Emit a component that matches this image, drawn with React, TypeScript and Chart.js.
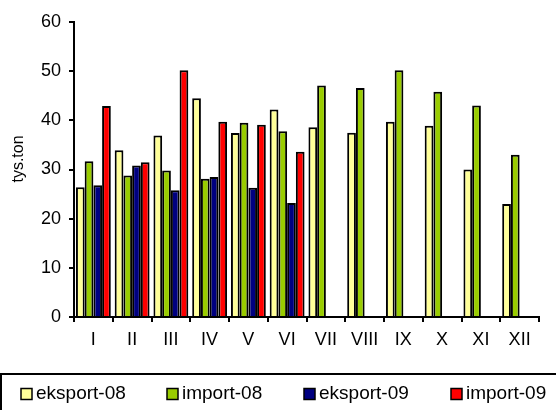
import React, { useEffect, useRef } from "react";
import { Chart, registerables } from "chart.js";

Chart.register(...registerables);

const months = ["I", "II", "III", "IV", "V", "VI", "VII", "VIII", "IX", "X", "XI", "XII"];
const eksport08 = [26.4, 33.9, 36.9, 44.5, 37.4, 42.2, 38.6, 37.5, 39.7, 38.9, 30.0, 23.0];
const import08 = [31.7, 28.8, 29.8, 28.1, 39.5, 37.8, 47.1, 46.6, 50.2, 45.8, 43.0, 33.0];
const eksport09 = [26.8, 30.8, 25.8, 28.5, 26.3, 23.2, null, null, null, null, null, null];
const import09 = [42.9, 31.5, 50.2, 39.7, 39.1, 33.6, null, null, null, null, null, null];
const seriesLabels = ["eksport-08", "import-08", "eksport-09", "import-09"];
const seriesColors = ["#FFFF99", "#99CC00", "#000080", "#FF0000"];
const yTicks = [0, 10, 20, 30, 40, 50, 60];
const yTitle = "tys.ton";

const FONT = "'Liberation Sans', Arial, sans-serif";

const extrasPlugin = {
  id: "extras",
  afterDraw(chart: any) {
    const ctx = chart.ctx;
    ctx.save();
    ctx.fillStyle = "#000";
    ctx.font = `16px ${FONT}`;
    ctx.textAlign = "center";
    ctx.textBaseline = "middle";
    ctx.translate(19, 159);
    ctx.rotate(-Math.PI / 2);
    ctx.fillText(yTitle, 0, 0);
    ctx.restore();

    ctx.save();
    ctx.strokeStyle = "#000";
    ctx.lineWidth = 2;
    ctx.strokeRect(1, 374, 620, 100);
    const xs = [21, 167, 304, 451];
    chart.data.datasets.forEach((ds: any, i: number) => {
      const x = xs[i];
      ctx.fillStyle = ds.backgroundColor;
      ctx.fillRect(x, 388.5, 11, 11);
      ctx.strokeStyle = "#000";
      ctx.lineWidth = 1.5;
      ctx.strokeRect(x, 388.5, 11, 11);
      ctx.fillStyle = "#000";
      ctx.font = `19px ${FONT}`;
      ctx.textAlign = "left";
      ctx.textBaseline = "middle";
      ctx.fillText(ds.label, x + 15, 394);
    });
    ctx.restore();
  },
};

export default function App() {
  const ref = useRef<HTMLCanvasElement | null>(null);
  useEffect(() => {
    document.body.style.margin = "0";
    const canvas = ref.current!;
    const data = [eksport08, import08, eksport09, import09];
    const chart = new Chart(canvas, {
      type: "bar",
      data: {
        labels: months,
        datasets: data.map((d, i) => ({
          label: seriesLabels[i],
          data: d as any,
          backgroundColor: seriesColors[i],
          borderColor: "#000",
          borderWidth: 2,
          categoryPercentage: 0.9,
          barPercentage: 1,
        })),
      },
      options: {
        animation: false,
        responsive: false,
        maintainAspectRatio: false,
        layout: { padding: { top: 22, right: 17, bottom: 53, left: 0 } },
        plugins: {
          legend: { display: false },
          tooltip: { enabled: false },
        },
        scales: {
          x: {
            offset: true,
            grid: {
              display: true,
              drawOnChartArea: false,
              drawTicks: true,
              tickLength: 5,
              color: "#000",
              lineWidth: 2,
              offset: true,
            },
            border: { display: true, color: "#000", width: 2 },
            ticks: {
              color: "#000",
              font: { size: 18, family: FONT },
              padding: 7,
              maxRotation: 0,
              autoSkip: false,
            },
            afterFit: (s: any) => {
              s.height = 40;
            },
          },
          y: {
            min: 0,
            max: 60,
            afterBuildTicks: (s: any) => {
              s.ticks = yTicks.map((v) => ({ value: v }));
            },
            grid: {
              display: true,
              drawOnChartArea: false,
              drawTicks: true,
              tickLength: 5,
              color: "#000",
              lineWidth: 2,
            },
            border: { display: true, color: "#000", width: 2 },
            ticks: {
              color: "#000",
              font: { size: 18, family: FONT },
              padding: 8,
            },
            afterFit: (s: any) => {
              s.width = 74;
            },
          },
        },
      },
      plugins: [extrasPlugin],
    });
    return () => chart.destroy();
  }, []);
  return <canvas ref={ref} width={556} height={410} style={{ display: "block" }} />;
}
